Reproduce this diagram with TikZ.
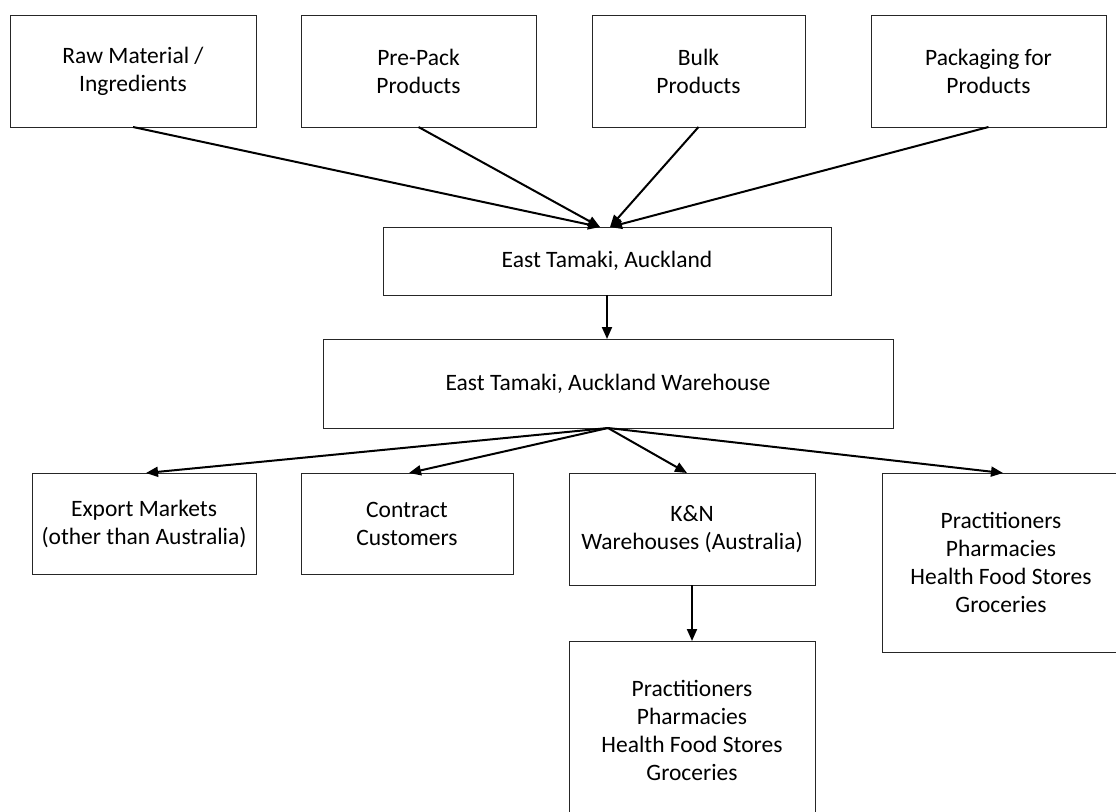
\documentclass[tikz,border=0pt]{standalone}
\usepackage{fontspec}
\setmainfont{Carlito}
\usetikzlibrary{arrows.meta,calc}
\begin{document}
\begin{tikzpicture}[x=1pt,y=-1pt,
  box/.style={draw=black!85,line width=0.9pt,rectangle,inner sep=0pt,outer sep=0pt,
    font=\fontsize{23.5}{28}\selectfont,align=center},
  arr/.style={line width=2pt,-{Triangle[length=12pt,width=10pt]}},
]
\useasboundingbox (0,0) rectangle (1116,811);
\fill[white] (0,0) rectangle (1116,811);
\clip (0,0) rectangle (1116,811);
% top row
\node[box,minimum width=246pt,minimum height=112pt] (b1) at (133,71) {Raw Material /\\Ingredients};
\node[box,minimum width=235pt,minimum height=112pt] (b2) at (418.5,71) {Pre-Pack\\Products};
\node[box,minimum width=213pt,minimum height=112pt] (b3) at (698.5,71) {Bulk\\Products};
\node[box,minimum width=235pt,minimum height=112pt] (b4) at (988.5,71) {Packaging for\\Products};
% middle
\node[box,minimum width=448pt,minimum height=68pt] (et) at (607,261) {East Tamaki, Auckland};
\node[box,minimum width=570pt,minimum height=89pt] (wh) at (608,383.5) {East Tamaki, Auckland Warehouse};
% bottom row
\node[box,minimum width=224pt,minimum height=101pt] (ex) at (144,523.5) {Export Markets\\(other than Australia)};
\node[box,minimum width=212pt,minimum height=101pt] (ct) at (407,523.5) {Contract\\Customers};
\node[box,minimum width=246pt,minimum height=112pt] (kn) at (692,529) {K\&N\\Warehouses (Australia)};
\node[box,minimum width=238pt,minimum height=179pt] (rb) at (1001,562.5) {Practitioners\\Pharmacies\\Health Food Stores\\Groceries};
\node[box,minimum width=246pt,minimum height=178pt] (bb) at (692,730) {Practitioners\\Pharmacies\\Health Food Stores\\Groceries};
% connectors
\draw[arr] (b1.south) -- ([xshift=-7pt]et.north);
\draw[arr] (b2.south) -- ([xshift=-7pt]et.north);
\draw[arr] (b3.south) -- ([xshift=3pt]et.north);
\draw[arr] (b4.south) -- ([xshift=3pt]et.north);
\draw[arr] (et.south) -- (et.south |- wh.north);
\draw[arr] (wh.south) -- ([xshift=2pt]ex.north);
\draw[arr] (wh.south) -- ([xshift=2pt]ct.north);
\draw[arr] (wh.south) -- ([xshift=-5pt]kn.north);
\draw[arr] (wh.south) -- ([xshift=2pt]rb.north);
\draw[arr] (kn.south) -- (bb.north);
\end{tikzpicture}
\end{document}
